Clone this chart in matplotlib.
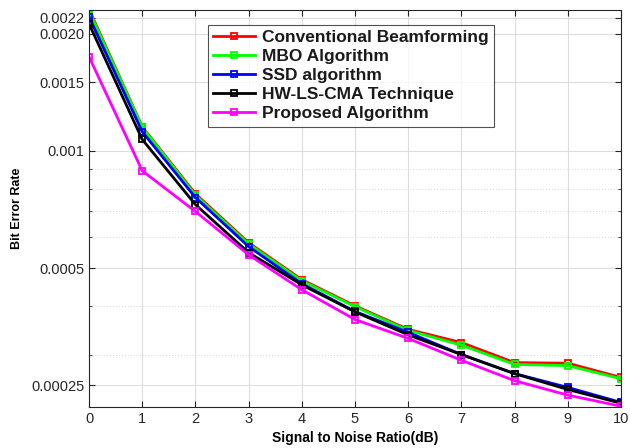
import matplotlib.pyplot as plt
from matplotlib.ticker import FixedLocator, NullFormatter

plt.rcParams['font.family'] = ['Liberation Sans', 'DejaVu Sans']

snr = [0, 1, 2, 3, 4, 5, 6, 7, 8, 9, 10]

conventional = [0.00231, 0.001153, 0.000776, 0.000581, 0.000467, 0.000400,
                0.000348, 0.000322, 0.000286, 0.000285, 0.000262]
mbo = [0.00229, 0.00115, 0.000770, 0.000577, 0.000464, 0.000398,
       0.000346, 0.000317, 0.000283, 0.000281, 0.000260]
ssd = [0.00221, 0.00112, 0.000759, 0.000568, 0.000456, 0.000387,
       0.000342, 0.000300, 0.000268, 0.000247, 0.000226]
hwlscma = [0.00212, 0.00107, 0.000728, 0.000548, 0.000453, 0.000386,
           0.000337, 0.000300, 0.000268, 0.000244, 0.000225]
proposed = [0.001745, 0.000889, 0.000699, 0.000541, 0.000440, 0.000369,
            0.000330, 0.000290, 0.000257, 0.000236, 0.000221]

labels = ["Conventional Beamforming", "MBO Algorithm", "SSD algorithm",
          "HW-LS-CMA Technique", "Proposed Algorithm"]
colors = ["#ff0000", "#00ff00", "#0000ff", "#000000", "#ff00ff"]

yticks = [0.00025, 0.0005, 0.001, 0.0015, 0.0020, 0.0022]
ytick_labels = ["0.00025", "0.0005", "0.001", "0.0015", "0.0020", "0.0022"]

fig = plt.figure(figsize=(6.3, 4.48), dpi=100)
ax = fig.add_axes([0.1413, 0.0915, 0.8444, 0.8862])

series = [conventional, mbo, ssd, hwlscma, proposed]
for vals, lab, c in zip(series, labels, colors):
    ax.plot(snr, vals, color=c, lw=2, marker='s', ms=5,
            markerfacecolor='none', markeredgewidth=1.3, label=lab)

ax.set_yscale('log')
ax.set_xlim(0, 10)
ax.set_ylim(0.00022, 0.0023)
ax.set_xticks(snr)
ax.yaxis.set_major_locator(FixedLocator(yticks))
ax.set_yticklabels(ytick_labels)
ax.yaxis.set_minor_locator(FixedLocator([0.0003, 0.0004, 0.0006, 0.0007,
                                         0.0008, 0.0009]))
ax.yaxis.set_minor_formatter(NullFormatter())

ax.grid(True, which='major', color='#dcdcdc', lw=0.8)
ax.grid(True, which='minor', axis='y', color='#dcdcdc', lw=0.8, ls=':')
ax.set_axisbelow(True)
ax.tick_params(which='both', direction='in', top=True, right=True,
               labelsize=10.5, colors='#262626', length=4)
ax.tick_params(which='minor', length=2)
for s in ax.spines.values():
    s.set_color('#262626')
    s.set_linewidth(0.8)

ax.set_xlabel("Signal to Noise Ratio(dB)", fontweight='bold', fontsize=10)
ax.set_ylabel("Bit Error Rate", fontweight='bold', fontsize=9, labelpad=6)

leg = ax.legend(loc='upper left', bbox_to_anchor=(0.224, 0.962),
                prop={'weight': 'bold', 'size': 12.5}, frameon=True,
                fancybox=False, edgecolor='#262626', borderaxespad=0,
                handlelength=2.4, labelspacing=0.22, borderpad=0.3,
                handletextpad=0.4)
leg.get_frame().set_linewidth(0.8)
for t in leg.get_texts():
    t.set_color('#1a1a1a')

fig.savefig("out.png", dpi=100)
